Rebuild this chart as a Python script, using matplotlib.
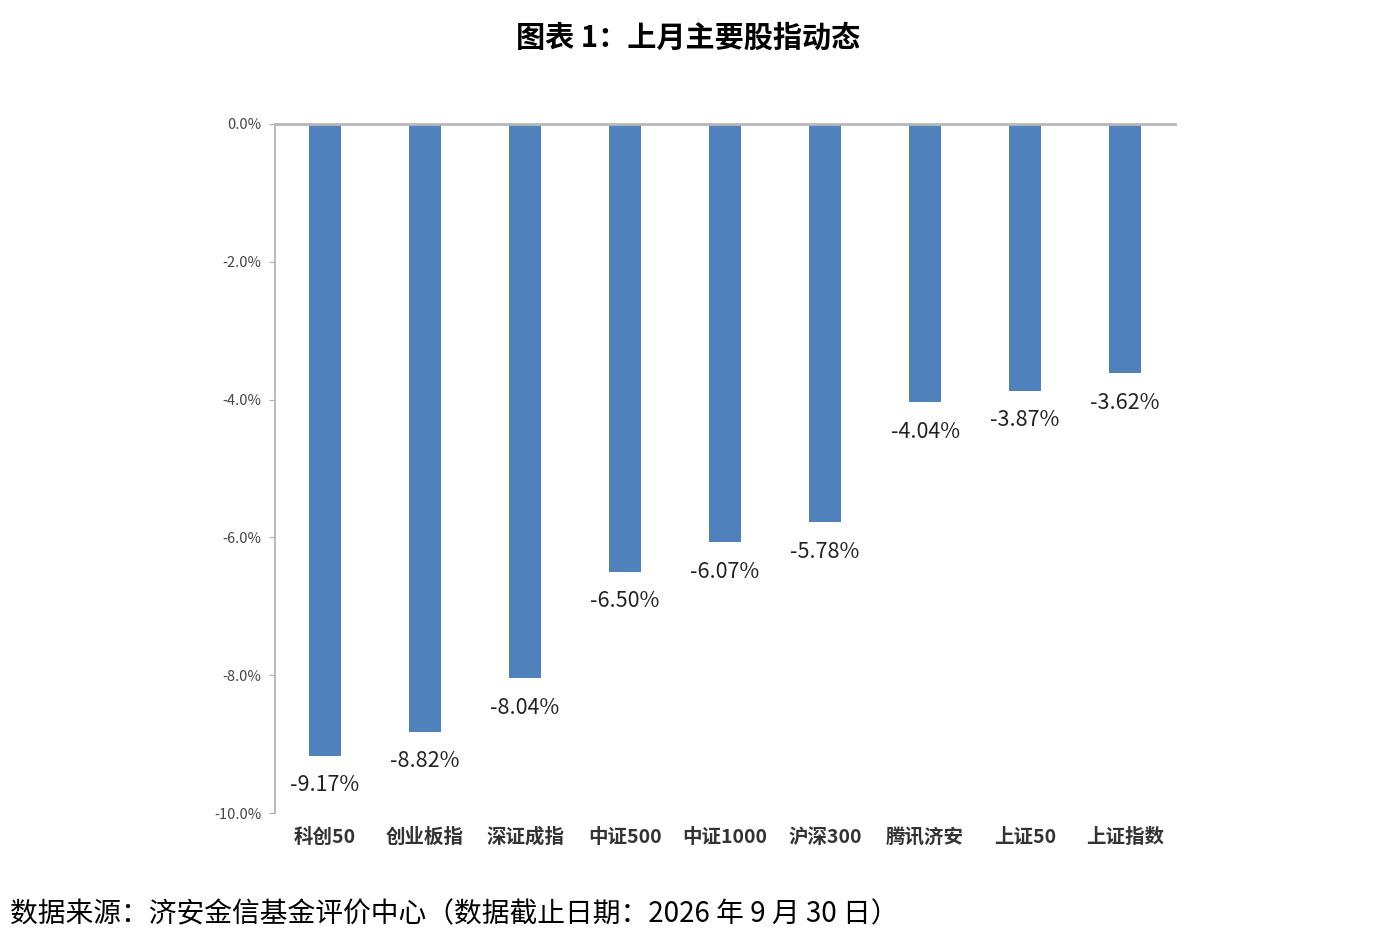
import numpy as np
import matplotlib.pyplot as plt

plt.rcParams['font.family'] = ['Noto Sans CJK SC', 'DejaVu Sans']

names = ['科创50', '创业板指', '深证成指', '中证500', '中证1000', '沪深300', '腾讯济安', '上证50', '上证指数']
returns = [-9.17, -8.82, -8.04, -6.50, -6.07, -5.78, -4.04, -3.87, -3.62]
yticks = [0, -2, -4, -6, -8, -10]

fig = plt.figure(figsize=(13.76, 9.48), dpi=100)
ax = fig.add_axes([0.1999, 0.1424, 0.6541, 0.7268])

x = np.arange(len(names))
ax.bar(x, returns, width=0.32, color='#4F81BD', zorder=2)

for xi, v in zip(x, returns):
    ax.text(xi, v - 0.27, '%.2f%%' % v, ha='center', va='top', fontsize=15.5, color='#222222')

ax.set_xlim(-0.5, len(names) - 0.5)
ax.set_ylim(-10, 0)
ax.set_yticks(yticks)
ax.set_yticklabels(['%.1f%%' % t for t in yticks], fontsize=10.5, color='#444444')
ax.tick_params(axis='y', length=4, color='#b0b0b0', pad=6)
ax.set_xticks([])

for s in ['right', 'bottom']:
    ax.spines[s].set_visible(False)
ax.spines['left'].set_color('#b0b0b0')
ax.spines['top'].set_color('#b8b8b8')
ax.spines['top'].set_linewidth(2)
ax.spines['left'].set_linewidth(1.2)

# category labels below the axes
for xi, n in zip(x, names):
    ax.text(xi, -10.35, n, ha='center', va='center', fontsize=14, color='#333333', fontweight='bold')

fig.text(0.5, 0.96, '图表 1：上月主要股指动态', ha='center', va='center', fontsize=21, fontweight='bold')
fig.text(0.007, 0.035, '数据来源：济安金信基金评价中心（数据截止日期：2026 年 9 月 30 日）', ha='left', va='center', fontsize=20)

fig.savefig('out.png', dpi=100)
